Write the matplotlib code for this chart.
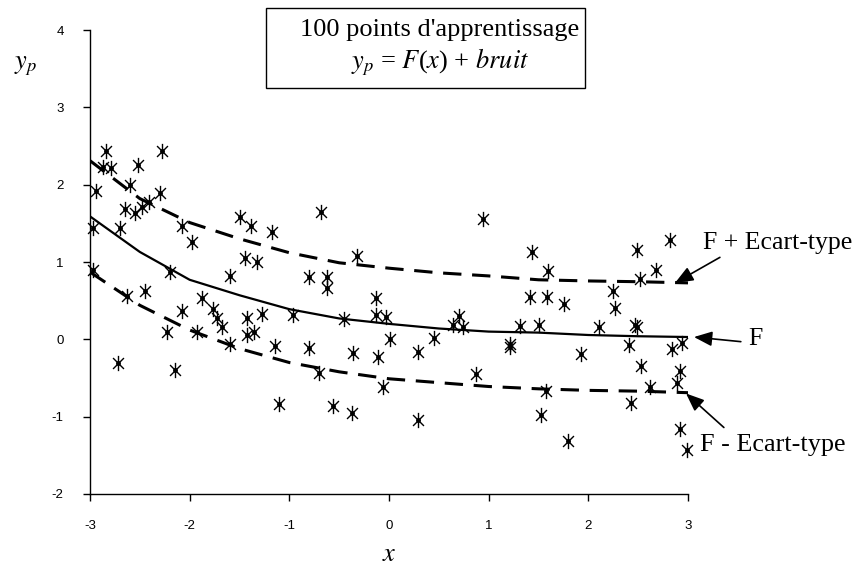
import matplotlib.pyplot as plt
from matplotlib.path import Path
from matplotlib.patches import Rectangle

plt.rcParams['mathtext.fontset'] = 'stix'
plt.rcParams['axes.unicode_minus'] = False

# training points (x, yp)
x_pts = [-2.84, -2.28, -2.87, -2.79, -2.52, -2.60, -2.94, -2.30, -2.41, -2.48,
         -2.65, -2.55, -2.97, -2.70, -1.50, -1.38, -1.17, -2.08, -1.98, -1.44,
         -1.32, -2.97, -2.20, -1.60, -2.63, -2.45, -1.88, -2.08, -1.77, -1.73,
         -1.42, -1.27, -2.23, -1.93, -1.68, -1.42, -1.35, -1.60, -1.14, -2.72,
         -2.15, -1.10, -0.68, 0.94, -0.32, -0.80, -0.62, -0.62, -0.13, -0.13,
         -0.03, -0.96, -0.45, 0.70, 0.64, 0.74, 0.01, 0.45, -0.80, -0.36,
         -0.11, 0.29, -0.70, -0.06, 0.87, -0.56, -0.37, 0.29, 1.43, 2.82,
         2.49, 2.68, 1.60, 2.52, 1.41, 1.59, 1.76, 2.25, 2.27, 1.31,
         1.51, 2.11, 2.47, 2.49, 1.21, 1.21, 2.41, 1.93, 2.94, 2.84,
         2.53, 2.92, 2.89, 2.62, 1.58, 2.43, 1.53, 1.80, 2.92, 2.99]
y_pts = [2.43, 2.43, 2.23, 2.21, 2.25, 1.99, 1.92, 1.89, 1.78, 1.71,
         1.68, 1.63, 1.44, 1.44, 1.58, 1.46, 1.39, 1.46, 1.26, 1.05,
         1.00, 0.90, 0.87, 0.82, 0.56, 0.63, 0.53, 0.36, 0.39, 0.27,
         0.27, 0.33, 0.10, 0.10, 0.16, 0.06, 0.09, -0.06, -0.09, -0.31,
         -0.40, -0.83, 1.65, 1.56, 1.08, 0.81, 0.80, 0.66, 0.53, 0.31,
         0.29, 0.32, 0.26, 0.30, 0.18, 0.16, 0.00, 0.02, -0.11, -0.18,
         -0.23, -0.16, -0.44, -0.62, -0.45, -0.86, -0.95, -1.04, 1.13, 1.29,
         1.16, 0.90, 0.88, 0.78, 0.55, 0.55, 0.46, 0.62, 0.40, 0.17,
         0.19, 0.16, 0.18, 0.16, -0.06, -0.10, -0.07, -0.19, -0.05, -0.13,
         -0.35, -0.41, -0.56, -0.62, -0.67, -0.82, -0.98, -1.31, -1.16, -1.43]

# F and F +/- ecart-type, read at x = -3 .. 3 step 0.5
x_curve = [-3, -2.5, -2, -1.5, -1, -0.5, 0, 0.5, 1, 1.5, 2, 2.5, 3]
F = [1.59, 1.13, 0.77, 0.57, 0.39, 0.27, 0.20, 0.14, 0.10, 0.087, 0.056, 0.04, 0.03]
F_plus = [2.31, 1.82, 1.51, 1.30, 1.12, 0.99, 0.92, 0.86, 0.82, 0.77, 0.755, 0.745, 0.73]
F_minus = [0.87, 0.44, 0.12, -0.12, -0.30, -0.42, -0.51, -0.56, -0.61, -0.64, -0.66, -0.67, -0.69]

serif = 'Liberation Serif'
sans = 'Liberation Sans'

fig = plt.figure(figsize=(8.64, 5.67), dpi=100)
ax = fig.add_axes([90/864, 73/567, 598/864, 464/567])

ax.plot(x_curve, F, color='black', lw=1.6)
ax.plot(x_curve, F_plus, color='black', lw=2.2, dashes=(6, 3.5))
ax.plot(x_curve, F_minus, color='black', lw=2.2, dashes=(6, 3.5))

# excel-like star marker: x plus vertical bar
star = Path([(-1, -1), (1, 1), (-1, 1), (1, -1), (0, -1.4), (0, 1.4)],
            [Path.MOVETO, Path.LINETO, Path.MOVETO, Path.LINETO, Path.MOVETO, Path.LINETO])
ax.plot(x_pts, y_pts, ls='none', marker=star, ms=11, mew=1.0, color='black', clip_on=False)
ax.plot(x_pts, y_pts, ls='none', marker='o', ms=2.5, color='black', clip_on=False)

ax.set_xlim(-3, 3)
ax.set_ylim(-2, 4)
ax.set_xticks(range(-3, 4))
ax.set_yticks(range(-2, 5))
for s in ['top', 'right']:
    ax.spines[s].set_visible(False)
ax.spines['left'].set_linewidth(1.0)
ax.spines['bottom'].set_linewidth(1.0)
ax.tick_params(direction='out', length=5, width=1.0, labelsize=9.5)
ax.tick_params(axis='x', pad=14)
ax.tick_params(axis='y', pad=14)
for lab in ax.get_xticklabels() + ax.get_yticklabels():
    lab.set_fontfamily(sans)
ax.set_xlabel('$x$', fontsize=19, labelpad=6)
fig.text(14/864, 1 - 65/567, '$y_p$', fontsize=19, ha='left', va='center')

# title box (text sits a little right of the box centre, as in the original)
fig.patches.append(Rectangle((266/864, 1 - 88/567), 319/864, 80/567, transform=fig.transFigure,
                             fc='white', ec='black', lw=1.0))
fig.text(440/864, 1 - 30/567, "100 points d'apprentissage",
         ha='center', va='center', fontsize=19, family=serif)
fig.text(440/864, 1 - 62/567, "$y_p$ = $F$($x$) + $bruit$",
         ha='center', va='center', fontsize=19, family=serif)

arrow = dict(arrowstyle='-|>,head_length=1.1,head_width=0.45', color='black', lw=1.2, shrinkA=0, shrinkB=0)
ax.text(3.15, 1.25, 'F + Ecart-type', fontsize=18.5, family=serif, va='center', ha='left', clip_on=False)
ax.annotate('', xy=(2.87, 0.73), xytext=(3.32, 1.06), arrowprops=arrow, annotation_clip=False)
ax.text(3.6, 0.0, 'F', fontsize=18.5, family=serif, va='center', ha='left', clip_on=False)
ax.annotate('', xy=(3.06, 0.03), xytext=(3.53, -0.03), arrowprops=arrow, annotation_clip=False)
ax.text(3.12, -1.37, 'F - Ecart-type', fontsize=18.8, family=serif, va='center', ha='left', clip_on=False)
ax.annotate('', xy=(2.98, -0.7), xytext=(3.36, -1.14), arrowprops=arrow, annotation_clip=False)

fig.savefig('out.png', dpi=100)
